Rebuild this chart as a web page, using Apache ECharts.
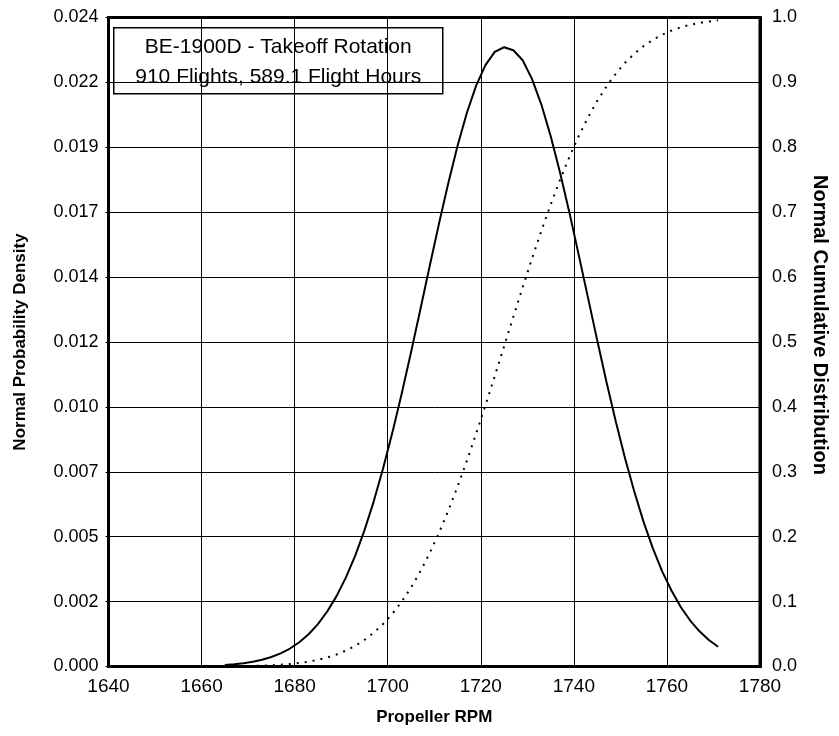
<!DOCTYPE html>
<html>
<head>
<meta charset="utf-8">
<script src="https://cdn.jsdelivr.net/npm/echarts@6/dist/echarts.min.js"></script>
<style>
html,body{margin:0;padding:0;background:#fff;}
#chart{width:839px;height:736px;}
</style>
</head>
<body>
<div id="chart"></div>
<script>
// ---- data ----
var rpm = [1665,1667,1669,1671,1673,1675,1677,1679,1681,1683,1685,1687,1689,1691,1693,1695,1697,1699,
  1701,1703,1705,1707,1709,1711,1713,1715,1717,1719,1721,1723,1725,1727,1729,1731,1733,1735,1737,1739,
  1741,1743,1745,1747,1749,1751,1753,1755,1757,1759,1761,1763,1765,1767,1769,1771];
var densityValues = [0.000057,0.000084,0.000122,0.000176,0.000250,0.000352,0.000486,0.000665,0.000897,0.001194,
  0.001569,0.002033,0.002602,0.003286,0.004093,0.005035,0.006108,0.007319,0.008649,0.01009,
  0.01161,0.01319,0.01479,0.01636,0.01786,0.01925,0.02047,0.02148,0.02224,0.02273,
  0.02290,0.02279,0.02242,0.02173,0.02079,0.01963,0.01829,0.01682,0.01526,0.01367,
  0.01208,0.01053,0.00907,0.00770,0.00646,0.00534,0.00436,0.00351,0.00280,0.00219,
  0.00170,0.00130,0.00098,0.00073];
var cumulativeValues = [0.0003,0.0004,0.0006,0.0009,0.0013,0.0019,0.0028,0.0039,0.0054,0.0075,
  0.0103,0.0139,0.0185,0.0244,0.0317,0.0408,0.0520,0.0654,0.0812,0.0999,
  0.1216,0.1464,0.1744,0.2055,0.2398,0.2769,0.3167,0.3587,0.4025,0.4475,
  0.4932,0.5389,0.5842,0.6284,0.6709,0.7113,0.7493,0.7845,0.8166,0.8455,
  0.8712,0.8938,0.9134,0.9302,0.9443,0.9561,0.9658,0.9736,0.9799,0.9849,
  0.9888,0.9917,0.9940,0.9957];
var xTickLabels = ['1640','1660','1680','1700','1720','1740','1760','1780'];
var leftTickLabels = ['0.000','0.002','0.005','0.007','0.010','0.012','0.014','0.017','0.019','0.022','0.024'];
var rightTickLabels = ['0.0','0.1','0.2','0.3','0.4','0.5','0.6','0.7','0.8','0.9','1.0'];
var titleLines = ['BE-1900D - Takeoff Rotation', '910 Flights, 589.1 Flight Hours'];
var rightAxisTitle = 'Normal Cumulative Distribution';

var FONT = '"Liberation Sans", Arial, sans-serif';
var densityData = rpm.map(function(x, i){ return [x, densityValues[i]]; });
var cumulativeData = rpm.map(function(x, i){ return [x, cumulativeValues[i]]; });

var chart = echarts.init(document.getElementById('chart'), null, {renderer: 'canvas'});
chart.setOption({
  animation: false,
  backgroundColor: '#fff',
  grid: {left: 108.5, top: 17.5, right: 79, bottom: 69.5, show: true, borderColor: '#000', borderWidth: 3, backgroundColor: 'transparent'},
  xAxis: {
    type: 'value', min: 1640, max: 1780, interval: 20,
    name: 'Propeller RPM', nameLocation: 'middle', nameGap: 42,
    nameTextStyle: {fontFamily: FONT, fontSize: 17, fontWeight: 'bold', color: '#000'},
    axisLine: {show: true, onZero: false, lineStyle: {color: '#000', width: 3}},
    axisTick: {show: false},
    axisLabel: {fontFamily: FONT, fontSize: 19, color: '#000', margin: 11,
      formatter: function(v){ return xTickLabels[Math.round((v - 1640) / 20)]; }},
    splitLine: {show: true, lineStyle: {color: '#000', width: 1}}
  },
  yAxis: [{
    type: 'value', min: 0, max: 0.024, interval: 0.0024, position: 'left',
    name: 'Normal Probability Density', nameLocation: 'middle', nameGap: 80, nameRotate: 90,
    nameTextStyle: {fontFamily: FONT, fontSize: 17, fontWeight: 'bold', color: '#000'},
    axisLine: {show: true, lineStyle: {color: '#000', width: 3}},
    axisTick: {show: true, length: 3, lineStyle: {color: '#000'}},
    axisLabel: {fontFamily: FONT, fontSize: 18, color: '#000', margin: 10,
      formatter: function(v){ return leftTickLabels[Math.round(v / 0.0024)]; }},
    splitLine: {show: true, lineStyle: {color: '#000', width: 1}}
  }, {
    type: 'value', min: 0, max: 1, interval: 0.1, position: 'right',
    axisLine: {show: true, lineStyle: {color: '#000', width: 3}},
    axisTick: {show: false},
    axisLabel: {fontFamily: FONT, fontSize: 18, color: '#000', margin: 12,
      formatter: function(v){ return rightTickLabels[Math.round(v * 10)]; }},
    splitLine: {show: false}
  }],
  graphic: [{
    type: 'group', left: 113, top: 27,
    children: [
      {type: 'rect', shape: {x: 0, y: 0, width: 329, height: 66}, style: {fill: '#fff', stroke: '#000', lineWidth: 1.5}},
      {type: 'text', x: 164.5, y: 19, style: {text: titleLines[0], font: '21px ' + FONT, fill: '#000', align: 'center', verticalAlign: 'middle'}},
      {type: 'text', x: 164.5, y: 49, style: {text: titleLines[1], font: '21px ' + FONT, fill: '#000', align: 'center', verticalAlign: 'middle'}}
    ]
  }, {
    type: 'text', x: 820, y: 325, rotation: -Math.PI / 2,
    style: {text: rightAxisTitle, font: 'bold 20px ' + FONT, fill: '#000', align: 'center', verticalAlign: 'middle'}
  }],
  series: [{
    type: 'line', name: 'Density', yAxisIndex: 0, data: densityData,
    showSymbol: false, smooth: false,
    lineStyle: {color: '#000', width: 2}
  }, {
    type: 'line', name: 'Cumulative', yAxisIndex: 1, data: cumulativeData,
    showSymbol: false, smooth: false,
    lineStyle: {color: '#000', width: 2, type: [2, 6]}
  }]
});
</script>
</body>
</html>
